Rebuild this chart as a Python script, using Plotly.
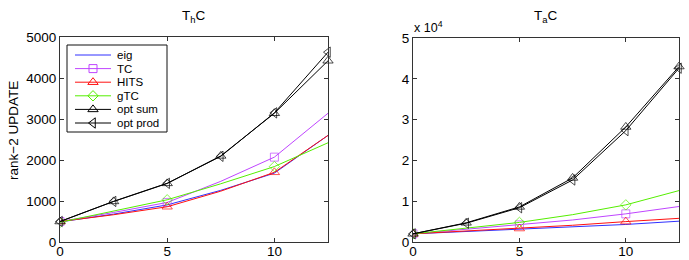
import plotly.graph_objects as go

x = [0, 2.5, 5, 7.5, 10, 12.5]
series_names = ["eig", "TC", "HITS", "gTC", "opt sum", "opt prod"]

# Left panel: ThC
thc_eig = [490, 680, 905, 1260, 1680, 2600]
thc_tc = [500, 720, 965, 1480, 2070, 3140]
thc_hits = [500, 665, 860, 1240, 1700, 2600]
thc_gtc = [480, 750, 1030, 1420, 1840, 2420]
thc_optsum = [500, 990, 1430, 2100, 3140, 4420]
thc_optprod = [500, 990, 1430, 2090, 3150, 4630]

# Right panel: TaC
tac_eig = [2000, 2600, 3200, 3800, 4300, 5100]
tac_tc = [2000, 3100, 4200, 5400, 6900, 8700]
tac_hits = [2000, 2650, 3300, 4100, 5000, 5800]
tac_gtc = [2000, 3400, 4800, 6700, 9100, 12600]
tac_optsum = [2000, 4700, 8600, 15700, 28200, 43000]
tac_optprod = [2000, 4600, 8400, 15200, 27300, 42600]

xticks = [0, 5, 10]
left_yticks = [0, 1000, 2000, 3000, 4000, 5000]
right_yticks = [0, 10000, 20000, 30000, 40000, 50000]
right_yticklabels = ["0", "1", "2", "3", "4", "5"]

colors = ["#3030ff", "#bf45ff", "#ff1010", "#55ee00", "#000000", "#000000"]
symbols = ["circle", "square-open", "triangle-up-open", "diamond-open",
           "triangle-up-open", "triangle-left-open"]
msize = [0, 8, 9, 8, 9, 9]
every_other = [True, False, True, False, True, False]

# plot area in pixels
PL, PR, PT, PB = 60, 679, 37, 242
W, H = 689, 260
pw, ph = PR - PL, PB - PT
LX1 = 328  # right edge of left panel
XMAX, YMAX = 12.5, 5000


def fx(px):
    return (px - PL) / pw


def fy(py):
    return (PB - py) / ph


# pixel -> left-panel data coords (for legend placement only)
def lx(px):
    return (px - PL) / (LX1 - PL) * XMAX


def ly(py):
    return (PB - py) / ph * YMAX


fig = go.Figure()
left = [thc_eig, thc_tc, thc_hits, thc_gtc, thc_optsum, thc_optprod]
right = [tac_eig, tac_tc, tac_hits, tac_gtc, tac_optsum, tac_optprod]
for i, name in enumerate(series_names):
    if i >= 4:
        sizes = [msize[i]] * len(x)
    else:
        sizes = [msize[i] if k else 0 for k in every_other]
    mode = "lines" if i == 0 else "lines+markers"
    for ys, xa, ya in [(left[i], "x", "y"), (right[i], "x2", "y2")]:
        fig.add_trace(go.Scatter(
            x=x, y=ys, name=name, mode=mode, xaxis=xa, yaxis=ya,
            showlegend=False,
            line=dict(color=colors[i], width=1),
            marker=dict(symbol=symbols[i], size=sizes, color=colors[i],
                        line=dict(color=colors[i], width=1)),
            cliponaxis=False if i >= 4 else True,
        ))

# manual legend (MATLAB-style compact box) inside the left panel
LEG_X0, LEG_Y0, LEG_X1, LEG_Y1 = 67, 45, 167, 132
row_y0, row_dy = 55, 13.6
line_x0, line_x1, sym_x, text_x = 75, 111, 93, 115
for i, name in enumerate(series_names):
    ry = row_y0 + i * row_dy
    fig.add_trace(go.Scatter(
        x=[lx(line_x0), lx(line_x1)], y=[ly(ry), ly(ry)], mode="lines",
        showlegend=False, hoverinfo="skip",
        line=dict(color=colors[i], width=1)))
    if i > 0:
        fig.add_trace(go.Scatter(
            x=[lx(sym_x)], y=[ly(ry)], mode="markers",
            showlegend=False, hoverinfo="skip",
            marker=dict(symbol=symbols[i], size=msize[i], color=colors[i],
                        line=dict(color=colors[i], width=1))))

axis_common = dict(showline=True, linecolor="#333", linewidth=1, mirror="ticks",
                   ticks="inside", ticklen=4, tickcolor="#333", showgrid=False,
                   zeroline=False, automargin=False,
                   tickfont=dict(family="Liberation Sans", size=13.5, color="#000"))

annotations = [
    dict(text="T<sub>h</sub>C", x=fx(194), y=fy(17)),
    dict(text="T<sub>a</sub>C", x=fx(546), y=fy(17)),
    dict(text="x 10<sup>4</sup>", x=fx(412), y=fy(27), xanchor="left", font=dict(size=12.5)),
    dict(text="rank−2 UPDATE", x=fx(13), y=fy(131), textangle=-90),
]
for a in annotations:
    a.setdefault("xanchor", "center")
    a.setdefault("font", dict(size=13.5))
    a.update(xref="paper", yref="paper", showarrow=False, yanchor="middle")
for i, name in enumerate(series_names):
    annotations.append(dict(text=name, x=lx(text_x), y=ly(row_y0 + i * row_dy), xref="x", yref="y",
                            xanchor="left", yanchor="middle", showarrow=False,
                            font=dict(size=11.5)))

fig.update_layout(
    width=W, height=H,
    margin=dict(l=PL, r=W - PR, t=PT, b=H - PB, autoexpand=False),
    paper_bgcolor="white", plot_bgcolor="white",
    font=dict(family="Liberation Sans", color="#000"),
    showlegend=False,
    xaxis=dict(domain=[0, fx(LX1)], range=[0, XMAX], tickvals=xticks, anchor="y",
               ticklabelstandoff=-3, **axis_common),
    yaxis=dict(domain=[0, 1], range=[0, YMAX], tickvals=left_yticks, anchor="x", **axis_common),
    xaxis2=dict(domain=[fx(413), 1], range=[0, XMAX], tickvals=xticks, anchor="y2",
                ticklabelstandoff=-3, **axis_common),
    yaxis2=dict(domain=[0, fy(38)], range=[0, 50000], tickvals=right_yticks,
                ticktext=right_yticklabels, anchor="x2", **axis_common),
    shapes=[dict(type="rect", xref="x", yref="y", x0=lx(LEG_X0), y0=ly(LEG_Y0),
                 x1=lx(LEG_X1), y1=ly(LEG_Y1),
                 line=dict(color="#111", width=1), fillcolor="white", layer="below")],
    annotations=annotations,
)

fig.write_html("out.html", config={"displayModeBar": False},
               post_script="document.body.style.margin='0';document.body.style.overflow='hidden';")
